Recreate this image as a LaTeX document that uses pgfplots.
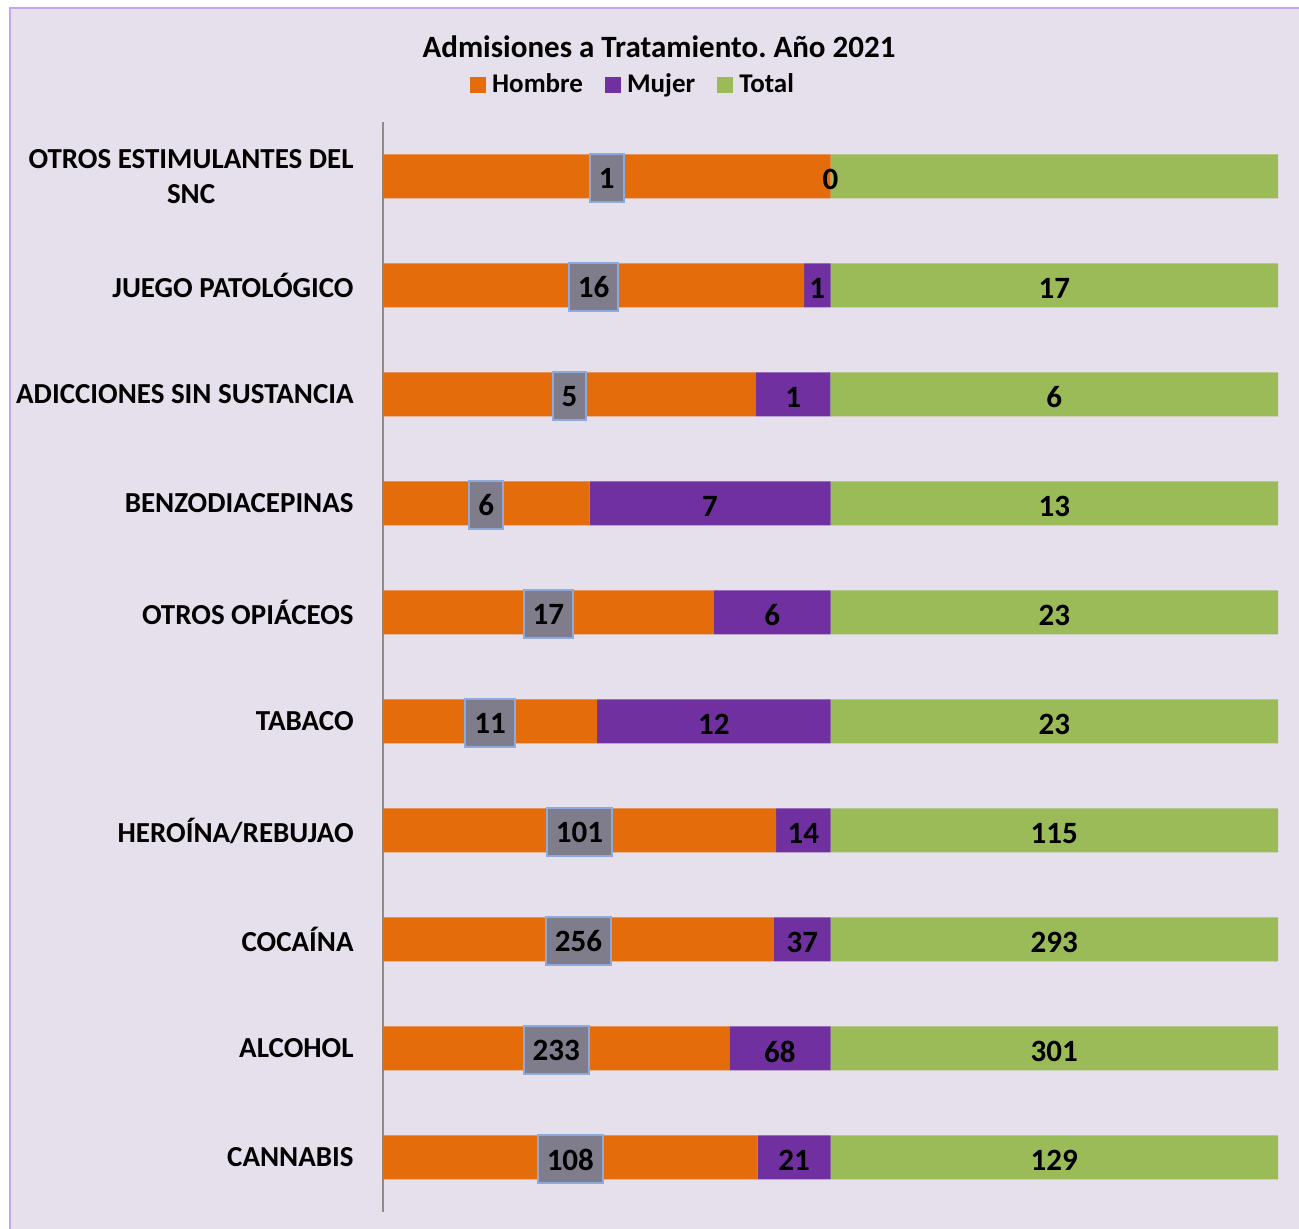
\documentclass[border=0pt]{standalone}
\usepackage{fontspec}
\setmainfont{Carlito}
\usepackage{pgfplots}
\usepackage{pgfplotstable}
\pgfplotsset{compat=1.18}

\definecolor{cH}{HTML}{E46C0A}
\definecolor{cM}{HTML}{7030A0}
\definecolor{cT}{HTML}{9BBB59}
\definecolor{fondo}{HTML}{E6E0EC}
\definecolor{borde}{HTML}{C4A6EE}
\definecolor{caja}{HTML}{7F7D8B}
\definecolor{cajaborde}{HTML}{8EA9DB}
\definecolor{eje}{HTML}{8C8C8C}

% idx: 0 = CANNABIS (abajo) ... 9 = OTROS ESTIMULANTES (arriba)
\pgfplotstableread{
idx H   M  T
0   108 21 129
1   233 68 301
2   256 37 293
3   101 14 115
4   11  12 23
5   17  6  23
6   6   7  13
7   5   1  6
8   16  1  17
9   1   0  1
}\datos

\begin{document}
\frenchspacing
\begin{tikzpicture}[x=1pt,y=1pt]
% px -> pt: x=(px-383)/2, y=(1212-py)/2
\useasboundingbox (-191.5,-8.5) rectangle (458,606);
\fill[white] (-191.5,-8.5) rectangle (458,606);
\filldraw[fill=fondo, draw=borde, line width=1pt] (-186.5,-20) rectangle (470,602);

\node[font=\bfseries\fontsize{15.5}{17}\selectfont] at (138,582.5) {Admisiones a Tratamiento. Año 2021};

\begin{axis}[
  at={(0,0)}, anchor=south west,
  width=447.5pt, height=545pt, scale only axis,
  xmin=0, xmax=100, ymin=-0.5, ymax=9.5,
  xbar stacked, bar width=22pt,
  axis x line=none, axis y line=left,
  y axis line style={-, draw=eje, line width=1pt},
  ytick={0,...,9},
  yticklabels={CANNABIS,ALCOHOL,COCAÍNA,HEROÍNA/REBUJAO,TABACO,OTROS OPIÁCEOS,BENZODIACEPINAS,ADICCIONES SIN SUSTANCIA,JUEGO PATOLÓGICO,{OTROS ESTIMULANTES DEL\\SNC}},
  major tick length=0pt,
  yticklabel style={align=center, inner xsep=0pt, xshift=-14.5pt,
    font=\bfseries\fontsize{14.5}{17.5}\selectfont},
  legend style={at={(axis description cs:0.2816,1.034)}, anchor=center,
    draw=none, fill=none, legend columns=-1,
    font=\bfseries\fontsize{13.5}{15}\selectfont,
    nodes={inner xsep=3pt},
    /tikz/every even column/.append style={column sep=8pt}},
  legend image code/.code={\fill[#1] (0pt,-4pt) rectangle (8pt,4pt);},
]
\addplot[fill=cH, draw=none] table[x expr={50*\thisrow{H}/\thisrow{T}}, y=idx] {\datos};
\addplot[fill=cM, draw=none] table[x expr={50*\thisrow{M}/\thisrow{T}}, y=idx] {\datos};
\addplot[fill=cT, draw=none] table[x expr={50}, y=idx] {\datos};
\legend{Hombre,Mujer,Total}
\end{axis}

\begin{axis}[
  at={(0,0)}, anchor=south west,
  width=447.5pt, height=545pt, scale only axis,
  xmin=0, xmax=100, ymin=-0.5, ymax=9.5,
  hide axis,
  nodes near coords={\pgfplotspointmeta},
  point meta=explicit symbolic,
  every node near coord/.append style={anchor=center, text=black,
    font=\bfseries\fontsize{15.5}{15.5}\selectfont},
]
\addplot[draw=none, every node near coord/.append style={fill=caja, draw=cajaborde,
    line width=1pt, minimum height=24pt, inner xsep=4.5pt, yshift=-1pt}]
  table[x expr={25*\thisrow{H}/\thisrow{T}}, y=idx, meta=H] {\datos};
\addplot[draw=none, every node near coord/.append style={yshift=-1.5pt}]
  table[x expr={50*\thisrow{H}/\thisrow{T}+25*\thisrow{M}/\thisrow{T}}, y=idx, meta=M] {\datos};
\addplot[draw=none, skip coords between index={9}{10},
    every node near coord/.append style={yshift=-1.5pt}]
  table[x expr={75}, y=idx, meta=T] {\datos};
\end{axis}
\end{tikzpicture}
\end{document}
